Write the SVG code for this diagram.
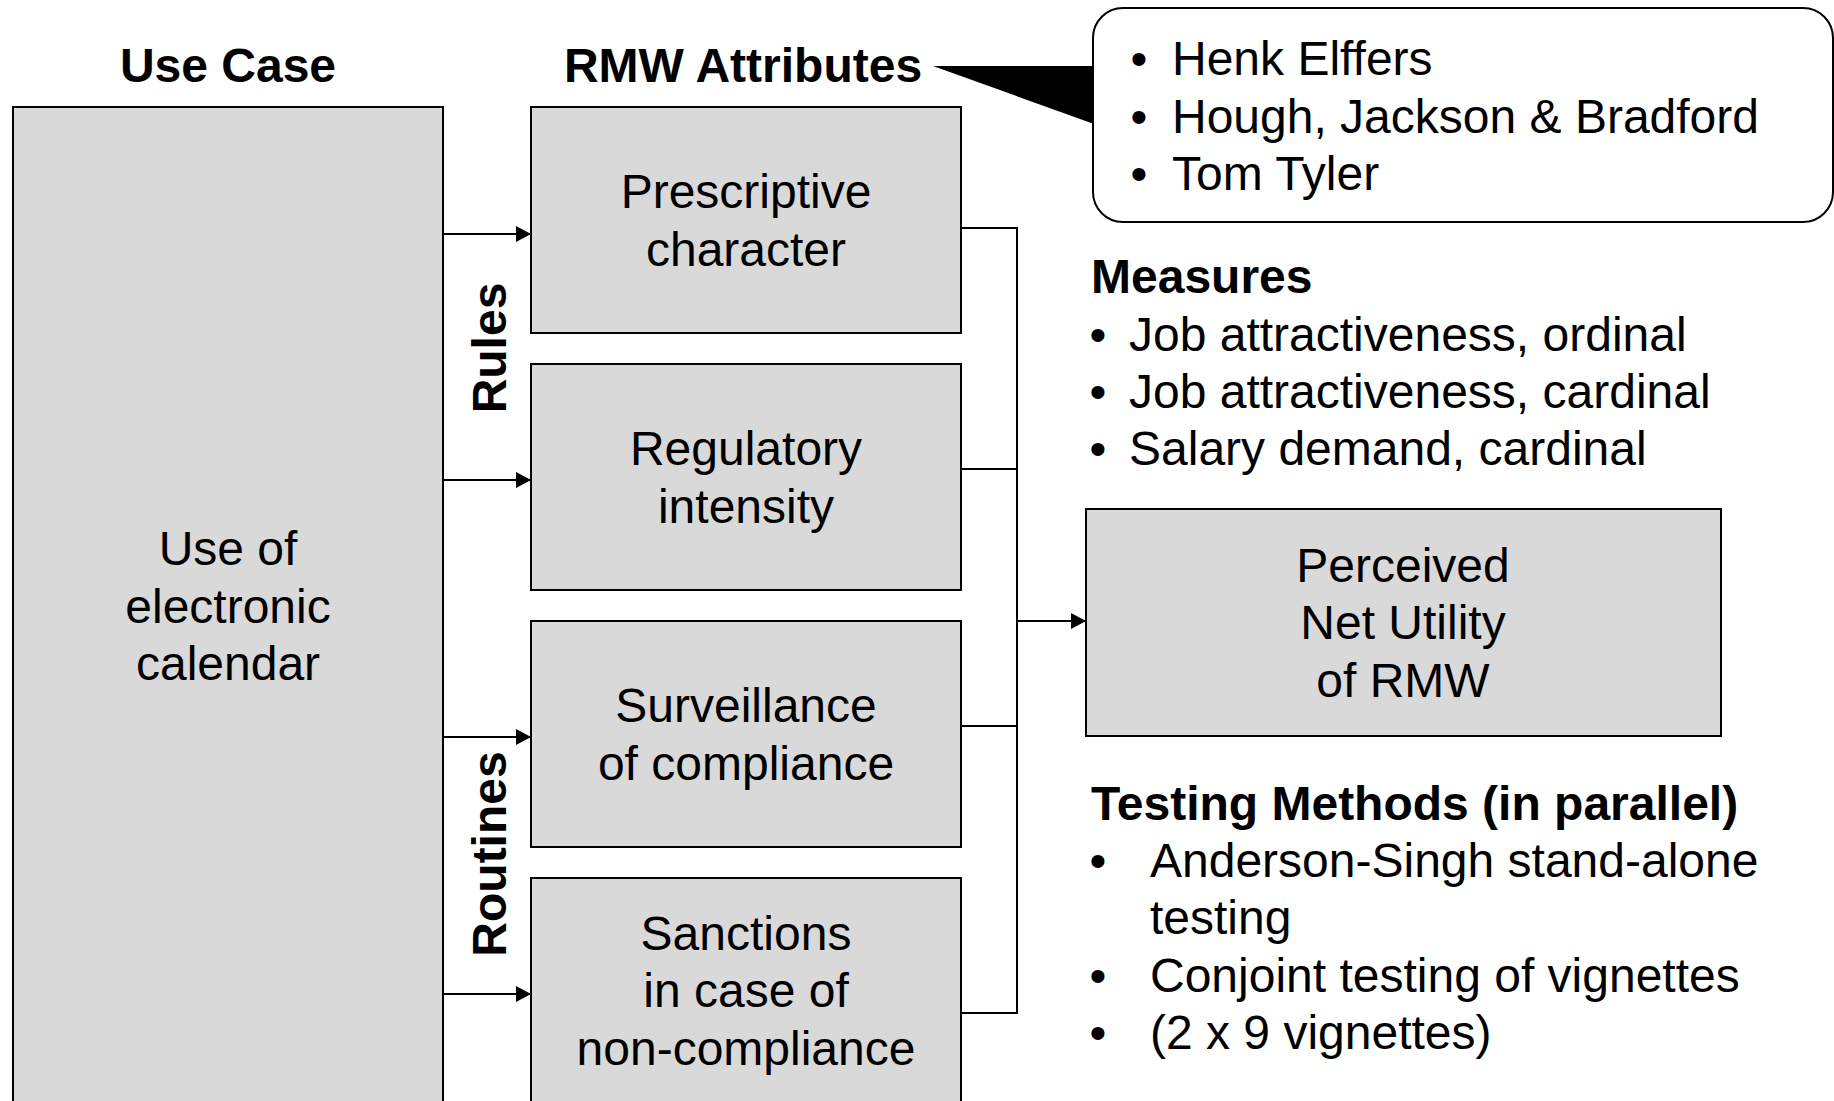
<svg xmlns="http://www.w3.org/2000/svg" width="1834" height="1101" viewBox="0 0 1834 1101">
  <style>
    .box { fill: #d9d9d9; stroke: #000; stroke-width: 2; }
    .callout { fill: #fff; stroke: #000; stroke-width: 2; }
    .wire { fill: none; stroke: #000; stroke-width: 2; }
    .t { font-family: "Liberation Sans", Arial, sans-serif; font-size: 48px; fill: #000; }
    .c { text-anchor: middle; }
    .b { font-weight: bold; }
  </style>
  <defs>
    <marker id="arrow" markerUnits="userSpaceOnUse" markerWidth="16" markerHeight="16" refX="15" refY="8" orient="auto">
      <path d="M0,0 L15,8 L0,16 z" fill="#000"/>
    </marker>
  </defs>

  <rect width="1834" height="1101" fill="#fff"/>

  <!-- column headings -->
  <text class="t b c" x="228" y="82">Use Case</text>
  <text class="t b c" x="743" y="82">RMW Attributes</text>

  <!-- source node -->
  <g id="use-case">
    <rect class="box" x="13" y="107" width="430" height="1010"/>
    <text class="t c" x="228" y="565">Use of</text>
    <text class="t c" x="228" y="623">electronic</text>
    <text class="t c" x="228" y="680">calendar</text>
  </g>

  <!-- attribute nodes -->
  <g id="prescriptive">
    <rect class="box" x="531" y="107" width="430" height="226"/>
    <text class="t c" x="746" y="208">Prescriptive</text>
    <text class="t c" x="746" y="266">character</text>
  </g>
  <g id="regulatory">
    <rect class="box" x="531" y="364" width="430" height="226"/>
    <text class="t c" x="746" y="465">Regulatory</text>
    <text class="t c" x="746" y="523">intensity</text>
  </g>
  <g id="surveillance">
    <rect class="box" x="531" y="621" width="430" height="226"/>
    <text class="t c" x="746" y="722">Surveillance</text>
    <text class="t c" x="746" y="780">of compliance</text>
  </g>
  <g id="sanctions">
    <rect class="box" x="531" y="878" width="430" height="240"/>
    <text class="t c" x="746" y="950">Sanctions</text>
    <text class="t c" x="746" y="1007">in case of</text>
    <text class="t c" x="746" y="1065">non-compliance</text>
  </g>

  <!-- group labels -->
  <g id="rules-label">
    <text class="t b c" transform="translate(506,348) rotate(-90)">Rules</text>
  </g>
  <g id="routines-label">
    <text class="t b c" transform="translate(506,854) rotate(-90)">Routines</text>
  </g>

  <!-- outcome node -->
  <g id="net-utility">
    <rect class="box" x="1086" y="509" width="635" height="227"/>
    <text class="t c" x="1403" y="582">Perceived</text>
    <text class="t c" x="1403" y="639">Net Utility</text>
    <text class="t c" x="1403" y="697">of RMW</text>
  </g>

  <!-- literature callout -->
  <g id="sources-callout">
    <rect class="callout" x="1093" y="8" width="740" height="214" rx="30" ry="30"/>
    <polygon points="933,66 1094,66 1094,124" fill="#000"/>
    <text class="t c" x="1139" y="75">•</text>
    <text class="t" x="1172" y="75">Henk Elffers</text>
    <text class="t c" x="1139" y="133">•</text>
    <text class="t" x="1172" y="133">Hough, Jackson &amp; Bradford</text>
    <text class="t c" x="1139" y="190">•</text>
    <text class="t" x="1172" y="190">Tom Tyler</text>
  </g>

  <!-- measures list -->
  <g id="measures">
    <text class="t b" x="1091" y="293">Measures</text>
    <text class="t c" x="1098" y="351">•</text>
    <text class="t" x="1129" y="351">Job attractiveness, ordinal</text>
    <text class="t c" x="1098" y="408">•</text>
    <text class="t" x="1129" y="408">Job attractiveness, cardinal</text>
    <text class="t c" x="1098" y="465">•</text>
    <text class="t" x="1129" y="465">Salary demand, cardinal</text>
  </g>

  <!-- testing methods list -->
  <g id="testing-methods">
    <text class="t b" x="1091" y="820">Testing Methods (in parallel)</text>
    <text class="t c" x="1098" y="877">•</text>
    <text class="t" x="1150" y="877">Anderson-Singh stand-alone</text>
    <text class="t" x="1150" y="934">testing</text>
    <text class="t c" x="1098" y="992">•</text>
    <text class="t" x="1150" y="992">Conjoint testing of vignettes</text>
    <text class="t c" x="1098" y="1049">•</text>
    <text class="t" x="1150" y="1049">(2 x 9 vignettes)</text>
  </g>

  <!-- connectors -->
  <g id="connectors">
    <line class="wire" x1="443" y1="234" x2="531" y2="234" marker-end="url(#arrow)"/>
    <line class="wire" x1="443" y1="480" x2="531" y2="480" marker-end="url(#arrow)"/>
    <line class="wire" x1="443" y1="737" x2="531" y2="737" marker-end="url(#arrow)"/>
    <line class="wire" x1="443" y1="994" x2="531" y2="994" marker-end="url(#arrow)"/>
    <polyline class="wire" points="961,228 1017,228 1017,1013 961,1013"/>
    <line class="wire" x1="961" y1="469" x2="1017" y2="469"/>
    <line class="wire" x1="961" y1="726" x2="1017" y2="726"/>
    <line class="wire" x1="1017" y1="621" x2="1086" y2="621" marker-end="url(#arrow)"/>
  </g>
</svg>
